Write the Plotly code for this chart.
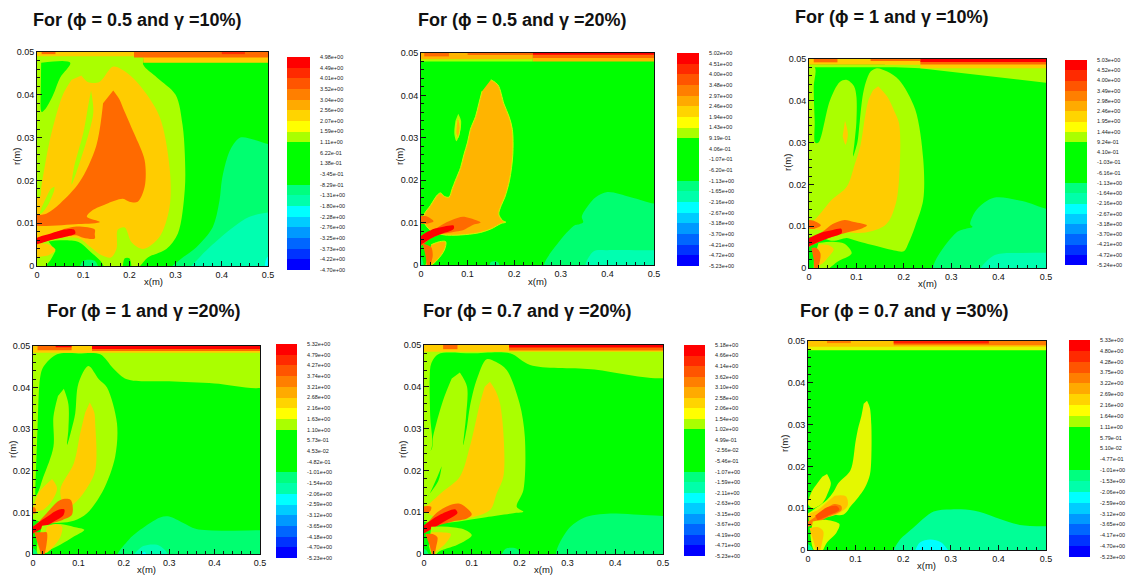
import plotly.graph_objects as go

WIDTH, HEIGHT = 1128, 577

# Fill colours for the band codes 0..9
colors_base = ["#00ffff", "#00ffb0", "#00ff70", "#00ff00", "#aaff00", "#ffcc00", "#ff6a00", "#ff3000", "#ff2000", "#ff0000"]
colors_p2 = ["#00ffff", "#00ffb0", "#00ff70", "#00ff00", "#aaff00", "#ffb400", "#ff6a00", "#ff3000", "#ff2000", "#ff0000"]
colors_p6 = ["#00ffff", "#00ffb0", "#00ff96", "#00ff00", "#e4f800", "#ffc400", "#ff7a00", "#ff5000", "#ff2000", "#ff0000"]

# Contour bands, outline points (x in m, r in m), painted in order: (band code, outline)
bands_p1 = [
    (2, [(.52, .0285), (.5, .0285), (.47, .0295), (.44, .030), (.42, .0275), (.41, .0247), (.40, .02), (.395, .0153), (.38, .009), (.345, .0044), (.31, .0015), (.287, -.001), (.52, -.001)]),
    (1, [(.52, .0125), (.5, .0125), (.46, .0115), (.424, .009), (.38, .005), (.35, .0018), (.33, -.001), (.52, -.001)]),
    (0, [(.52, .003), (.498, .002), (.495, -.001), (.52, -.001)]),
    (4, [(-.02, .05), (.23, .05), (.23, .047), (.26, .044), (.30, .04), (.315, .033), (.32, .026), (.32, .018), (.305, .0076), (.28, .004), (.24, .002), (.21, -.001), (-.02, -.001)]),
    (3, [(.009, .0475), (.072, .0475), (.05, .044), (.035, .04), (.02, .037), (.01, .036), (.008, .04)]),
    (3, [(.025, .0057), (.05, .006), (.09, .0056), (.115, .0034), (.14, .0008), (.145, -.001), (.015, -.001), (.03, .0015), (.04, .0035)]),
    (2, [(.09, -.001), (.10, .0012), (.125, .0012), (.135, -.001)]),
    (3, [(.185, -.001), (.19, .0018), (.2, .0018), (.205, -.001)]),
    (5, [(.096, .0445), (.11, .043), (.135, .043), (.165, .0466), (.19, .0455), (.22, .0425), (.265, .035), (.287, .023), (.287, .0138), (.265, .0068), (.23, .004), (.205, .0055), (.19, .009), (.175, .0085), (.172, .004), (.16, .002), (.14, .0025), (.115, .0045), (.09, .0065), (.03, .0065), (0, .006), (-.02, .006), (-.02, .0165), (.005, .016), (.01, .019), (.027, .029), (.056, .04), (.075, .0435)]),
    (4, [(.117, .041), (.122, .036), (.112, .031), (.095, .025), (.075, .019), (.08, .023), (.1, .031), (.11, .037)]),
    (4, [(.038, .0185), (.03, .018), (.02, .016), (.006, .0122), (.01, .0123), (.025, .0145), (.037, .0175)]),
    (5, [(-.01, .0052), (.02, .0052), (.04, .0038), (.025, .0025), (.01, .0022), (-.01, .002)]),
    (6, [(.165, .041), (.178, .039), (.186, .037), (.21, .031), (.233, .0247), (.233, .0185), (.218, .015), (.2, .015), (.186, .0157), (.15, .0145), (.12, .013), (.108, .0115), (.136, .0103), (.09, .0098), (-.02, .0098), (-.02, .0115), (.02, .0122), (.05, .0146), (.092, .0196), (.128, .028), (.143, .038)]),
    (6, [(-.01, .0058), (.02, .0068), (.05, .0083), (.085, .0092), (.125, .0085), (.125, .0075), (.125, .0064), (.10, .0066), (.085, .0072), (.05, .0066), (.02, .0058), (-.01, .005)]),
    (9, [(-.01, .0058), (0, .0066), (.03, .0076), (.06, .0085), (.08, .0085), (.083, .0076), (.06, .0068), (.03, .0061), (.01, .0054), (-.01, .0048)]),
]
strips_p1 = [(5, -.02, .52, .049, .052), (5, .23, .52, .0475, .049), (6, .21, .52, .0487, .052), (6, .01, .04, .0495, .052), (7, .40, .45, .0495, .052)]

bands_p2 = [
    (2, [(.52, .0145), (.5, .0145), (.45, .016), (.40, .0172), (.375, .016), (.36, .0142), (.345, .0114), (.348, .0101), (.335, .0095), (.33, .0094), (.30, .006), (.264, -.001), (.52, -.001)]),
    (1, [(.52, .0035), (.47, .0035), (.40, .0035), (.37, .0032), (.353, -.001), (.52, -.001)]),
    (2, [(.145, -.001), (.15, .0007), (.165, .0007), (.17, -.001)]),
    (2, [(-.01, .002), (0, .002), (.006, 0), (.01, -.001), (-.01, -.001)]),
    (5, [(.15, .0437), (.165, .0425), (.178, .038), (.189, .035), (.196, .032), (.197, .026), (.19, .02), (.18, .016), (.172, .014), (.167, .012), (.175, .0105), (.182, .0101), (.172, .0098), (.15, .0085), (.12, .0075), (.05, .0071), (.02, .0082), (.005, .0105), (.007, .012), (.02, .014), (.035, .0165), (.042, .017), (.05, .0162), (.06, .016), (.067, .018), (.074, .02), (.085, .023), (.092, .026), (.10, .029), (.106, .032), (.117, .035), (.124, .038), (.131, .041)]),
    (4, [(.08, .0357), (.086, .034), (.083, .031), (.076, .0292), (.0715, .031), (.074, .034)]),
    (5, [(.081, .0345), (.084, .0325), (.079, .030), (.075, .031), (.077, .034)]),
    (6, [(-.01, .0115), (.012, .0115), (.027, .0103), (.015, .0098), (-.01, .0098)]),
    (6, [(-.01, .0055), (.01, .0074), (.03, .0085), (.05, .0098), (.07, .0108), (.09, .0114), (.12, .0105), (.128, .010), (.11, .0094), (.09, .0082), (.07, .0078), (.045, .0073), (.02, .0062), (0, .0045), (-.01, .004)]),
    (9, [(-.01, .006), (.01, .0076), (.03, .0086), (.05, .0091), (.07, .0093), (.07, .0085), (.04, .0072), (.02, .0062), (0, .0048), (-.01, .0044)]),
    (5, [(.022, .0048), (.04, .0055), (.053, .0055), (.05, .0035), (.035, .0012), (.022, 0), (.01, 0)]),
    (6, [(.003, .0052), (.012, .0048), (.022, .0042), (.025, .002), (.015, -.001), (.01, .002), (.006, .004)]),
]
strips_p2 = [(4, -.02, .24, .048, .0487), (5, -.02, .24, .0485, .052), (6, .007, .06, .0492, .052), (6, .10, .24, .0495, .052),
             (5, .24, .52, .048, .052), (6, .24, .52, .0488, .052), (9, .24, .52, .0496, .052)]

bands_p3 = [
    (2, [(.52, .0142), (.5, .0142), (.45, .016), (.39, .0168), (.354, .014), (.34, .0105), (.345, .0098), (.335, .0095), (.31, .0084), (.262, -.001), (.52, -.001)]),
    (1, [(.52, .0036), (.45, .0036), (.39, .003), (.36, -.001), (.52, -.001)]),
    (4, [(-.02, .049), (.012, .048), (.01, .0434), (.012, .035), (.013, .03), (.02, .03), (.044, .04), (.065, .0445), (.08, .045), (.095, .0435), (.1, .041), (.1, .035), (.096, .03), (.093, .0267), (.102, .03), (.107, .035), (.113, .041), (.12, .0445), (.13, .047), (.143, .0478), (.165, .047), (.19, .045), (.224, .038), (.241, .026), (.241, .0163), (.224, .01), (.21, .006), (.2, .004), (.18, .0042), (.15, .005), (.10, .0065), (.08, .0072), (.05, .0065), (.02, .0075), (-.02, .007)]),
    (4, [(.02, .006), (.05, .0063), (.075, .0058), (.09, .0035), (.06, .0015), (.03, -.001), (.012, -.001), (.012, .003)]),
    (5, [(.02, .0056), (.04, .0055), (.052, .0045), (.04, .0025), (.028, .001), (.018, .0005)]),
    (6, [(.005, .0048), (.016, .0048), (.024, .0035), (.022, .0012), (.013, -.001), (.01, .002)]),
    (5, [(.146, .0435), (.165, .041), (.18, .0375), (.19, .0346), (.192, .026), (.185, .0163), (.17, .0115), (.155, .0098), (.12, .0085), (.08, .0085), (.03, .009), (0, .0095), (-.01, .0107), (.002, .0107), (.02, .0125), (.048, .0163), (.08, .0195), (.097, .025), (.108, .029), (.118, .036), (.125, .04), (.135, .0425)]),
    (5, [(.076, .0352), (.082, .032), (.077, .0295), (.071, .0315)]),
    (6, [(-.01, .0115), (.01, .0113), (.025, .0102), (.012, .0094), (-.01, .0094)]),
    (6, [(-.01, .0062), (.01, .0075), (.03, .0088), (.05, .0105), (.075, .0115), (.095, .011), (.122, .0102), (.105, .0092), (.08, .0085), (.05, .0075), (.03, .0067), (.01, .0056), (-.01, .0045)]),
    (9, [(-.01, .0066), (.01, .0077), (.03, .0086), (.05, .0091), (.068, .0094), (.069, .0084), (.045, .0073), (.02, .0062), (0, .0052), (-.01, .0048)]),
]
strips_p3 = [(4, -.02, .235, .048, .0486), (5, -.02, .235, .0486, .052), (6, .01, .06, .0492, .052), (6, .13, .235, .0495, .052),
             (5, .235, .52, .0478, .052), (6, .235, .52, .0487, .052), (9, .235, .52, .0493, .052)]
wedge_p3 = [(4, [(.16, .0482), (.234, .0478), (.5, .0443), (.52, .0441), (.52, .05), (.16, .05)])]

bands_p4 = [
    (4, [(-.02, .052), (.52, .052), (.52, .0406), (.4, .041), (.3, .0415), (.207, .042), (.177, .0446), (.148, .048), (.1, .0482), (.053, .048), (.023, .045), (.016, .0426), (.01, .03), (.005, .0154), (.003, .01), (-.02, .01)]),
    (2, [(.52, .0058), (.36, .006), (.33, .0075), (.3, .009), (.28, .0088), (.236, .0058), (.21, .0033), (.185, -.001), (.52, -.001)]),
    (1, [(.215, -.001), (.243, .0019), (.273, .0022), (.29, .001), (.302, -.001)]),
    (0, [(.235, -.001), (.245, .0005), (.255, -.001)]),
    (4, [(.068, .0397), (.078, .036), (.078, .03), (.075, .0262), (.085, .030), (.093, .0338), (.1, .041), (.122, .0452), (.145, .042), (.163, .04), (.185, .0314), (.181, .0234), (.155, .0154), (.119, .0098), (.09, .008), (.06, .0075), (.03, .0075), (0, .0085), (-.01, .01), (-.01, .0138), (.005, .0138), (.023, .0186), (.045, .0258), (.045, .033), (.055, .038)]),
    (5, [(.125, .0364), (.135, .034), (.137, .0314), (.137, .02), (.111, .0146), (.082, .0114), (.07, .0114), (.06, .0154), (.09, .0218), (.104, .029), (.115, .034)]),
    (5, [(.042, .018), (.053, .0158), (.04, .0125), (.02, .0105), (.002, .0105), (.012, .0146), (.03, .0168)]),
    (6, [(-.01, .0058), (.01, .0075), (.03, .0098), (.06, .013), (.083, .013), (.086, .0095), (.065, .0082), (.03, .0070), (.01, .0058), (-.01, .0045)]),
    (9, [(-.01, .0058), (.01, .0074), (.03, .0089), (.055, .0106), (.069, .0107), (.067, .0093), (.04, .0074), (.015, .0058), (-.01, .0044)]),
    (6, [(-.01, .0112), (.004, .0112), (.006, .0098), (-.01, .0098)]),
    (4, [(.02, .0068), (.06, .0072), (.09, .0065), (.113, .0058), (.09, .0042), (.06, .0022), (.03, .0005), (.01, -.001), (.01, .003)]),
    (5, [(.03, .0065), (.05, .0072), (.064, .0066), (.06, .004), (.045, .0018), (.03, .0003), (.022, .0005)]),
    (6, [(.003, .0052), (.018, .0052), (.03, .0052), (.03, .0025), (.022, -.001), (.012, .002), (.006, .004)]),
    (2, [(-.01, .0018), (.005, .001), (.012, -.001), (-.01, -.001)]),
]
strips_p4 = [(5, -.02, .52, .0484, .052), (6, .01, .085, .049, .052), (6, .13, .52, .0488, .052), (9, .05, .085, .0497, .052), (9, .13, .52, .0493, .052)]

bands_p5 = [
    (4, [(-.02, .052), (.52, .052), (.52, .0428), (.35, .0442), (.222, .0452), (.18, .048), (.1, .048), (.03, .0478), (.015, .0455), (.012, .0424), (.013, .033), (.015, .025), (-.02, .02)]),
    (2, [(.52, .009), (.45, .0094), (.397, .0097), (.34, .0089), (.3, .0057), (.278, -.001), (.52, -.001)]),
    (2, [(.16, -.001), (.17, .0012), (.195, .0012), (.205, -.001)]),
    (4, [(.075, .0434), (.09, .04), (.088, .033), (.082, .026), (.09, .0305), (.096, .0352), (.11, .0416), (.131, .0466), (.15, .046), (.173, .044), (.2, .036), (.211, .028), (.208, .0153), (.194, .0113), (.208, .0101), (.19, .0098), (.13, .0088), (.089, .0081), (.05, .0075), (.01, .0075), (-.01, .0085), (-.01, .024), (.015, .0249), (.019, .0281), (.04, .0368), (.058, .042)]),
    (3, [(.037, .021), (.03, .0175), (.008, .0138), (.012, .0145), (.028, .0185)]),
    (5, [(.138, .0412), (.15, .039), (.159, .036), (.167, .0273), (.166, .0185), (.152, .0145), (.138, .0105), (.09, .0085), (.05, .0085), (.01, .0095), (0, .011), (.012, .0121), (.04, .015), (.075, .0185), (.096, .0257), (.117, .036), (.127, .04)]),
    (6, [(-.01, .0058), (.01, .0078), (.026, .0098), (.05, .0115), (.075, .012), (.1, .0095), (.09, .0085), (.06, .0078), (.03, .0068), (.01, .0056), (-.01, .0045)]),
    (6, [(-.01, .0113), (.015, .0113), (.012, .0101), (-.01, .0101)]),
    (9, [(-.01, .006), (.01, .0077), (.035, .0095), (.065, .0107), (.07, .0098), (.04, .0076), (.015, .0059), (-.01, .0044)]),
    (4, [(.015, .0065), (.05, .0065), (.085, .0058), (.1, .0045), (.07, .0022), (.03, .0005), (.02, -.001), (.01, .002)]),
    (5, [(.015, .0052), (.03, .0052), (.056, .0048), (.045, .0025), (.03, .001), (.023, .0005)]),
    (6, [(.003, .0048), (.018, .0048), (.028, .004), (.025, .0015), (.02, -.001), (.012, .002)]),
    (2, [(-.01, .0018), (.004, .001), (.012, -.001), (-.01, -.001)]),
]
strips_p5 = [(5, -.02, .52, .0484, .052), (6, .04, .07, .049, .052), (6, .178, .52, .0487, .052), (9, .178, .52, .0494, .052)]

bands_p6 = [
    (2, [(.52, .0057), (.445, .006), (.35, .0094), (.3, .0097), (.264, .0092), (.22, .0052), (.19, .002), (.18, -.001), (.52, -.001)]),
    (0, [(.222, -.001), (.235, .0018), (.257, .0025), (.28, .0018), (.3, -.001)]),
    (2, [(-.01, .0018), (.005, .001), (.012, -.001), (-.01, -.001)]),
    (4, [(.124, .0357), (.13, .034), (.133, .03), (.133, .022), (.13, .018), (.12, .015), (.105, .0125), (.09, .0105), (.075, .0085), (.04, .0085), (.01, .008), (-.01, .008), (.01, .0095), (.04, .012), (.054, .014), (.064, .016), (.089, .019), (.1, .026), (.105, .029), (.112, .032), (.117, .035)]),
    (4, [(.04, .0182), (.048, .016), (.043, .014), (.03, .0112), (.01, .01), (0, .011), (.008, .014), (.02, .016), (.03, .0175)]),
    (5, [(.056, .013), (.08, .0128), (.083, .0105), (.06, .0085), (.03, .0075), (.005, .0065), (.002, .0085), (.02, .0095), (.04, .0115)]),
    (6, [(-.01, .0062), (.01, .0075), (.03, .0092), (.055, .011), (.07, .0105), (.07, .0095), (.04, .0078), (.015, .0062), (-.01, .0052)]),
    (7, [(.015, .0082), (.04, .0102), (.06, .0105), (.066, .0096), (.04, .0081), (.02, .0071)]),
    (4, [(.01, .0068), (.04, .0072), (.066, .0062), (.06, .0042), (.04, .0018), (.025, -.001), (.012, 0), (.005, .0035)]),
    (5, [(.003, .0052), (.02, .0055), (.032, .0045), (.03, .002), (.022, -.001), (.012, .002)]),
]
strips_p6 = [(4, -.02, .52, .0478, .0488), (5, -.02, .52, .0486, .052), (6, .04, .09, .0495, .052), (6, .18, .52, .049, .052), (8, .18, .38, .0494, .052)]

# Legend colours, bottom band to top band
legend_colors = ["#0000ff", "#0033ff", "#0066ff", "#0099ff", "#00ccff", "#00ffff", "#00ffaa", "#00ff7f",
                 "#00ff00", "#00ff00", "#00ff00", "#00ff00", "#aaff00", "#ffff00", "#ffd400", "#ffaa00",
                 "#ff7f00", "#ff5500", "#ff2a00", "#ff0000"]

# Legend labels, top to bottom
legend_p1 = ["4.98e+00", "4.49e+00", "4.01e+00", "3.52e+00", "3.04e+00", "2.56e+00", "2.07e+00", "1.59e+00", "1.11e+00", "6.22e-01", "1.38e-01",
             "-3.45e-01", "-8.29e-01", "-1.31e+00", "-1.80e+00", "-2.28e+00", "-2.76e+00", "-3.25e+00", "-3.73e+00", "-4.22e+00", "-4.70e+00"]
legend_p2 = ["5.02e+00", "4.51e+00", "4.00e+00", "3.48e+00", "2.97e+00", "2.46e+00", "1.94e+00", "1.43e+00", "9.19e-01", "4.06e-01", "-1.07e-01",
             "-6.20e-01", "-1.13e+00", "-1.65e+00", "-2.16e+00", "-2.67e+00", "-3.18e+00", "-3.70e+00", "-4.21e+00", "-4.72e+00", "-5.23e+00"]
legend_p3 = ["5.03e+00", "4.52e+00", "4.00e+00", "3.49e+00", "2.98e+00", "2.46e+00", "1.95e+00", "1.44e+00", "9.24e-01", "4.10e-01", "-1.03e-01",
             "-6.16e-01", "-1.13e+00", "-1.64e+00", "-2.16e+00", "-2.67e+00", "-3.18e+00", "-3.70e+00", "-4.21e+00", "-4.72e+00", "-5.24e+00"]
legend_p4 = ["5.32e+00", "4.79e+00", "4.27e+00", "3.74e+00", "3.21e+00", "2.68e+00", "2.16e+00", "1.63e+00", "1.10e+00", "5.73e-01", "4.53e-02",
             "-4.82e-01", "-1.01e+00", "-1.54e+00", "-2.06e+00", "-2.59e+00", "-3.12e+00", "-3.65e+00", "-4.18e+00", "-4.70e+00", "-5.23e+00"]
legend_p5 = ["5.18e+00", "4.66e+00", "4.14e+00", "3.62e+00", "3.10e+00", "2.58e+00", "2.06e+00", "1.54e+00", "1.02e+00", "4.99e-01", "-2.56e-02",
             "-5.46e-01", "-1.07e+00", "-1.59e+00", "-2.11e+00", "-2.63e+00", "-3.15e+00", "-3.67e+00", "-4.19e+00", "-4.71e+00", "-5.23e+00"]
legend_p6 = ["5.33e+00", "4.80e+00", "4.28e+00", "3.75e+00", "3.22e+00", "2.69e+00", "2.16e+00", "1.64e+00", "1.11e+00", "5.79e-01", "5.10e-02",
             "-4.77e-01", "-1.01e+00", "-1.53e+00", "-2.06e+00", "-2.59e+00", "-3.12e+00", "-3.65e+00", "-4.17e+00", "-4.70e+00", "-5.23e+00"]

titles = ["For (ϕ = 0.5 and γ =10%)", "For (ϕ = 0.5 and γ =20%)", "For (ϕ = 1 and γ =10%)",
          "For (ϕ = 1 and γ =20%)", "For (ϕ = 0.7 and γ =20%)", "For (ϕ = 0.7 and γ =30%)"]
x_ticks = [0, 0.1, 0.2, 0.3, 0.4, 0.5]
x_ticktext = ["0", "0.1", "0.2", "0.3", "0.4", "0.5"]
r_ticks = [0, 0.01, 0.02, 0.03, 0.04, 0.05]
r_ticktext = ["0", "0.01", "0.02", "0.03", "0.04", "0.05"]

panels = [
    dict(bands=bands_p1, strips=strips_p1, wedge=[], colors=colors_base, legend=legend_p1, plot=(37, 268, 52, 266), bar=(287, 310, 57, 270), title=(31, 20), xl=(153, 281), rl=(17, 157), edge=None),
    dict(bands=bands_p2, strips=strips_p2, wedge=[], colors=colors_p2, legend=legend_p2, plot=(421, 654, 53, 265), bar=(677, 699, 53, 266), title=(416, 20), xl=(537, 281), rl=(400, 157), edge="#c8ff00"),
    dict(bands=bands_p3, strips=strips_p3, wedge=wedge_p3, colors=colors_base, legend=legend_p3, plot=(809, 1046, 59, 268), bar=(1065, 1087, 60, 265), title=(793, 17), xl=(927, 283), rl=(787, 163), edge=None),
    dict(bands=bands_p4, strips=strips_p4, wedge=[], colors=colors_base, legend=legend_p4, plot=(33, 260, 346, 554), bar=(276, 297, 344, 558), title=(45, 311), xl=(146, 569), rl=(12, 450), edge=None),
    dict(bands=bands_p5, strips=strips_p5, wedge=[], colors=colors_base, legend=legend_p5, plot=(424, 663, 345, 554), bar=(684, 705, 345, 556), title=(421, 311), xl=(543, 569), rl=(402, 450), edge=None),
    dict(bands=bands_p6, strips=strips_p6, wedge=[], colors=colors_p6, legend=legend_p6, plot=(808, 1046, 341, 550), bar=(1069, 1090, 340, 557), title=(798, 311), xl=(926, 565), rl=(785, 444), edge=None),
]

FONT = "Liberation Sans"
fig = go.Figure()
layout = dict(width=WIDTH, height=HEIGHT, margin=dict(l=0, r=0, t=0, b=0, autoexpand=False), paper_bgcolor="white",
              plot_bgcolor="#00ff00", showlegend=False, annotations=[], autosize=False)


def dom_x(a, b):
    return [a / WIDTH, b / WIDTH]


def dom_y(top, bottom):
    return [1 - bottom / HEIGHT, 1 - top / HEIGHT]


def add_band(color, pts, xa, ya, shape="spline", edge=None):
    fig.add_trace(go.Scatter(
        x=[q[0] for q in pts], y=[q[1] for q in pts], xaxis=xa, yaxis=ya, mode="lines", fill="toself", fillcolor=color,
        hoverinfo="skip", line=dict(width=1 if edge else 0, color=edge or color, shape=shape, smoothing=0.9)))


for i, p in enumerate(panels):
    n = 2 * i + 1
    m = 2 * i + 2
    xa, ya = ("x", "y") if n == 1 else (f"x{n}", f"y{n}")
    xb, yb = f"x{m}", f"y{m}"
    for code, pts in p["bands"]:
        add_band(p["colors"][code], pts, xa, ya, edge=p["edge"] if code == 5 else None)
    for code, pts in p["wedge"]:
        add_band(p["colors"][code], pts, xa, ya, shape="linear")
    for code, a, b, r0, r1 in p["strips"]:
        add_band(p["colors"][code], [(a, r0), (b, r0), (b, r1), (a, r1)], xa, ya, shape="linear")
    x0, x1, y0, y1 = p["plot"]
    tick_font = dict(family=FONT, size=9, color="#111111")
    layout["xaxis" if n == 1 else f"xaxis{n}"] = dict(
        domain=dom_x(x0, x1), range=[0, 0.5], anchor=ya, tickvals=x_ticks, ticktext=x_ticktext, ticks="inside", ticklen=5,
        tickcolor="#111111", showgrid=False, zeroline=False, showline=True, linecolor="#111111", linewidth=1, mirror=True,
        tickfont=tick_font, minor=dict(ticks="inside", dtick=0.02, ticklen=3, tickcolor="#111111", showgrid=False))
    layout["yaxis" if n == 1 else f"yaxis{n}"] = dict(
        domain=dom_y(y0, y1), range=[0, 0.05], anchor=xa, tickvals=r_ticks, ticktext=r_ticktext, ticks="inside", ticklen=5,
        tickcolor="#111111", showgrid=False, zeroline=False, showline=True, linecolor="#111111", linewidth=1, mirror=True,
        tickfont=tick_font, minor=dict(ticks="inside", dtick=0.002, ticklen=3, tickcolor="#111111", showgrid=False))

    fig.add_trace(go.Heatmap(
        z=[[k] for k in range(20)], x=[0], y=[k + 0.5 for k in range(20)], xaxis=xb, yaxis=yb, showscale=False, hoverinfo="skip",
        zmin=0, zmax=19, colorscale=[[k / 19, c] for k, c in enumerate(legend_colors)]))
    bx0, bx1, by0, by1 = p["bar"]
    layout[f"xaxis{m}"] = dict(domain=dom_x(bx0, bx1), anchor=yb, visible=False, range=[-0.5, 0.5])
    layout[f"yaxis{m}"] = dict(
        domain=dom_y(by0, by1), anchor=xb, side="right", range=[0, 20], tickvals=list(range(21)), ticktext=p["legend"][::-1],
        ticks="outside", ticklen=8, tickcolor="rgba(0,0,0,0)", showgrid=False, zeroline=False, showline=False,
        tickfont=dict(family=FONT, size=5.5, color="#222222"))

    tx, ty = p["title"]
    layout["annotations"].append(dict(text=f"<b>{titles[i]}</b>", x=tx / WIDTH, y=1 - ty / HEIGHT, xref="paper", yref="paper",
                                      xanchor="left", yanchor="middle", showarrow=False,
                                      font=dict(family=FONT, size=18, color="#111111")))
    lx, ly = p["xl"]
    layout["annotations"].append(dict(text="x(m)", x=lx / WIDTH, y=1 - ly / HEIGHT, xref="paper", yref="paper",
                                      xanchor="center", yanchor="middle", showarrow=False,
                                      font=dict(family=FONT, size=9.5, color="#111111")))
    lx, ly = p["rl"]
    layout["annotations"].append(dict(text="r(m)", x=lx / WIDTH, y=1 - ly / HEIGHT, xref="paper", yref="paper",
                                      xanchor="center", yanchor="middle", showarrow=False, textangle=-90,
                                      font=dict(family=FONT, size=9.5, color="#111111")))

fig.update_layout(**layout)
fig.write_html("out.html", config=dict(displayModeBar=False),
               post_script="document.body.style.margin='0';document.body.style.overflow='hidden';")
